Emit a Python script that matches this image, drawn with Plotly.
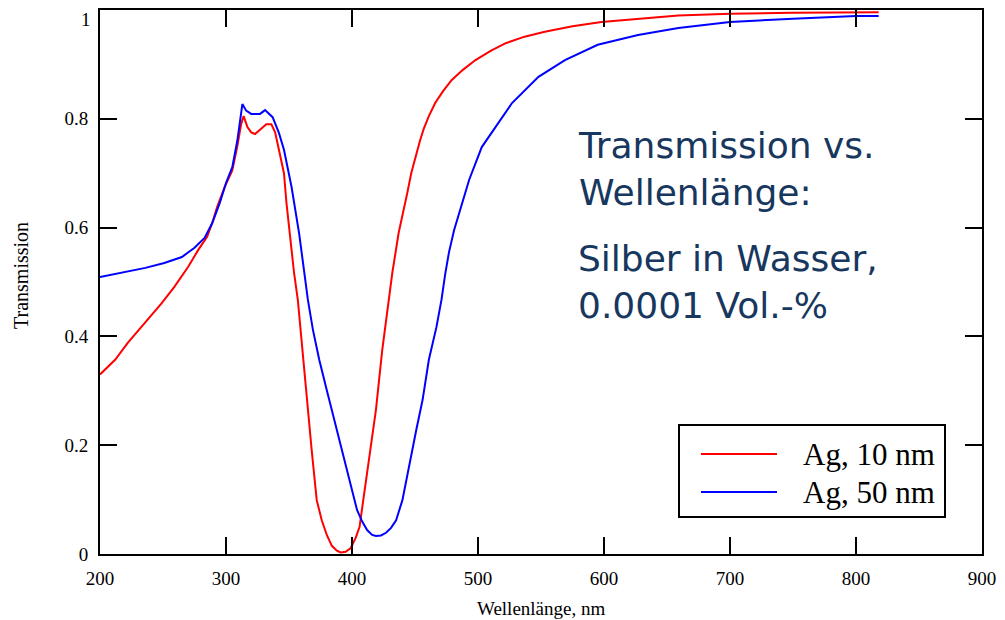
import plotly.graph_objects as go

# ---- data ----
series_names = ["Ag, 10 nm", "Ag, 50 nm"]
series_colors = ["#ff0000", "#0000ff"]

wl_10 = [200, 212, 222, 236, 249, 259, 270, 278, 285, 289, 293, 299, 305, 309, 312, 314,
         317, 320, 323, 327, 332, 336, 339, 342, 344, 346, 348, 351, 354, 357, 360, 364,
         368, 372, 376, 380, 384, 388, 391, 395, 399, 403, 406, 409, 412, 416, 419, 424,
         429, 432, 437, 440, 444, 447, 451, 454, 457, 461, 466, 472, 479, 488, 498, 510,
         522, 537, 553, 575, 598, 635, 659, 700, 750, 818]
tr_10 = [0.330, 0.357, 0.388, 0.425, 0.461, 0.491, 0.528, 0.559, 0.583, 0.608, 0.638, 0.675,
         0.705, 0.750, 0.790, 0.805, 0.785, 0.775, 0.772, 0.780, 0.790, 0.790, 0.775, 0.743,
         0.720, 0.700, 0.645, 0.580, 0.517, 0.467, 0.388, 0.283, 0.191, 0.099, 0.062, 0.035,
         0.015, 0.006, 0.003, 0.004, 0.011, 0.030, 0.050, 0.100, 0.149, 0.210, 0.265, 0.375,
         0.467, 0.517, 0.590, 0.620, 0.665, 0.700, 0.735, 0.760, 0.782, 0.805, 0.829, 0.850,
         0.871, 0.890, 0.908, 0.925, 0.939, 0.951, 0.960, 0.970, 0.978, 0.985, 0.990, 0.993,
         0.995, 0.996]

wl_50 = [200, 217, 236, 251, 265, 275, 283, 289, 295, 300, 305, 309, 312, 313, 316, 320,
         327, 331, 337, 342, 346, 350, 352, 358, 362, 365, 369, 374, 380, 386, 392, 398,
         404, 408, 412, 416, 419, 423, 427, 431, 435, 440, 445, 451, 456, 461, 467, 471,
         474, 477, 481, 485, 493, 503, 514, 527, 548, 569, 595, 627, 659, 700, 750, 800, 818]
tr_50 = [0.509, 0.517, 0.526, 0.535, 0.546, 0.563, 0.581, 0.608, 0.645, 0.682, 0.711, 0.760,
         0.810, 0.827, 0.815, 0.809, 0.809, 0.816, 0.803, 0.774, 0.743, 0.700, 0.675, 0.590,
         0.517, 0.467, 0.412, 0.357, 0.301, 0.246, 0.186, 0.136, 0.081, 0.060, 0.044, 0.035,
         0.033, 0.034, 0.039, 0.048, 0.062, 0.099, 0.160, 0.228, 0.283, 0.357, 0.417, 0.467,
         0.515, 0.555, 0.595, 0.627, 0.688, 0.748, 0.785, 0.829, 0.877, 0.908, 0.936, 0.954,
         0.967, 0.978, 0.984, 0.989, 0.989]

x_ticks = [200, 300, 400, 500, 600, 700, 800, 900]
y_ticks = [0, 0.2, 0.4, 0.6, 0.8, 1]
y_tick_labels = ["0", "0.2", "0.4", "0.6", "0.8", "1"]

x_title = "Wellenlänge, nm"
y_title = "Transmission"
note_blocks = ["Transmission vs.<br>Wellenlänge:", "Silber in Wasser,<br>0.0001 Vol.-%"]

# ---- layout geometry (screen pixels; page body has an 8px margin) ----
W, H = 1005, 620
OFF = 8
PL, PR, PT, PB = 100, 982, 10, 554


def px_x(p):
    return (p - PL) / (PR - PL)


def px_y(p):
    return (PB - p) / (PB - PT)


fig = go.Figure()
for wl, tr, name, col in [(wl_10, tr_10, series_names[0], series_colors[0]),
                          (wl_50, tr_50, series_names[1], series_colors[1])]:
    fig.add_trace(go.Scatter(x=wl, y=tr, mode="lines", name=name,
                             line=dict(color=col, width=2), showlegend=False))

serif = "Liberation Serif, Times New Roman, serif"
tick_font = dict(family=serif, size=19, color="black")
axis_common = dict(showline=True, linecolor="black", linewidth=2, mirror="ticks",
                   ticks="inside", ticklen=17, tickwidth=2, tickcolor="black",
                   showgrid=False, zeroline=False, automargin=False,
                   tickfont=tick_font)

# the top tick label ("1") would be clipped at the page edge; draw it separately
y_axis_text = [t if v < 1 else "" for v, t in zip(y_ticks, y_tick_labels)]

fig.update_layout(
    width=W - OFF, height=H - OFF,
    margin=dict(l=PL - OFF, r=W - PR, t=PT - OFF, b=H - PB),
    paper_bgcolor="white", plot_bgcolor="white",
    xaxis=dict(range=[200, 900], tickvals=x_ticks, ticklabelstandoff=6, **axis_common),
    yaxis=dict(range=[0, 1], tickvals=y_ticks, ticktext=y_axis_text,
               ticklabelstandoff=6, **axis_common),
)
for v, t in zip(y_ticks, y_tick_labels):
    if v >= 1:
        fig.add_annotation(text=t, xref="paper", yref="y", x=px_x(PL - 8), y=v,
                           xanchor="right", yanchor="top", yshift=PT - OFF, showarrow=False,
                           borderpad=0, font=tick_font)

# axis titles
fig.add_annotation(text=x_title, xref="paper", yref="paper", x=0.5, y=px_y(608),
                   xanchor="center", yanchor="middle", showarrow=False,
                   font=dict(family=serif, size=19, color="black"))
fig.add_annotation(text=y_title, xref="paper", yref="paper", x=px_x(21), y=px_y(276),
                   xanchor="center", yanchor="middle", showarrow=False, textangle=-90,
                   font=dict(family=serif, size=20, color="black"))

# annotation text block
note_font = dict(family="DejaVu Sans, sans-serif", size=36, color="#17375e")
note_y_px = [169, 282]
for txt, yp in zip(note_blocks, note_y_px):
    fig.add_annotation(text=txt, xref="paper", yref="paper", x=px_x(576), y=px_y(yp),
                       xanchor="left", yanchor="middle", align="left", showarrow=False,
                       font=note_font)

# legend box (drawn)
fig.add_shape(type="rect", xref="paper", yref="paper",
              x0=px_x(679), x1=px_x(945), y0=px_y(517), y1=px_y(425),
              line=dict(color="black", width=2), fillcolor="white")
leg_y = [454, 492]
for name, col, yp in zip(series_names, series_colors, leg_y):
    fig.add_shape(type="line", xref="paper", yref="paper",
                  x0=px_x(701), x1=px_x(777), y0=px_y(yp), y1=px_y(yp),
                  line=dict(color=col, width=2))
    fig.add_annotation(text=name, xref="paper", yref="paper", x=px_x(801), y=px_y(yp),
                       xanchor="left", yanchor="middle", showarrow=False,
                       font=dict(family=serif, size=31, color="black"))

fig.write_html("out.html")
